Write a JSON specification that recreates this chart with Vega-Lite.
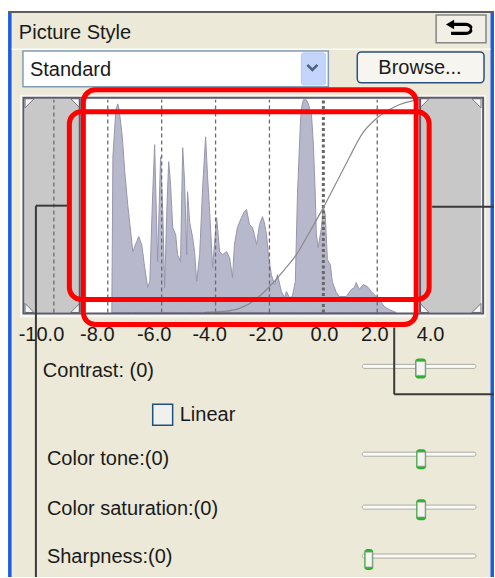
{
  "$schema": "https://vega.github.io/schema/vega-lite/v6.json",
  "width": 495,
  "height": 578,
  "padding": 0,
  "autosize": {"type": "fit", "contains": "padding"},
  "background": "white",
  "config": {"view": {"stroke": null}},
  "datasets": {
    "panel": [{"x": -11.70, "x2": 6.333, "y": 141.3, "y2": -124.41}],
    "blue": [{"x": -11.70, "x2": -11.57, "y": 141.3, "y2": -124.41}, {"x": 6.204, "x2": 6.333, "y": 141.3, "y2": -124.41}],
    "topline": [{"x": -11.70, "x2": 6.333, "y": 141.8, "y2": 140.85}],
    "sepline": [{"x": -11.57, "x2": 6.204, "y": 124.18, "y2": 123.47}],
    "undo_btn": [{"x": 4.185, "x2": 6.037, "y": 139.9, "y2": 126.8}],
    "undo_icon": [
      {"i": 1, "x": 4.778, "y": 135.45}, {"i": 2, "x": 5.296, "y": 135.45}, {"i": 3, "x": 5.444, "y": 134.74},
      {"i": 4, "x": 5.519, "y": 133.33}, {"i": 5, "x": 5.444, "y": 131.92}, {"i": 6, "x": 5.296, "y": 131.22},
      {"i": 7, "x": 4.741, "y": 131.22}
    ],
    "undo_head": [{"x": 4.70, "y": 135.45}],
    "combo": [{"x": -11.148, "x2": 0.185, "y": 123.0, "y2": 106.1}],
    "combo_btn": [{"x": -0.815, "x2": 0.074, "y": 122.07, "y2": 107.04}],
    "chevron": [{"i": 1, "x": -0.593, "y": 116.43}, {"i": 2, "x": -0.407, "y": 114.08}, {"i": 3, "x": -0.222, "y": 116.43}],
    "browse": [{"x": 1.259, "x2": 5.963, "y": 122.54, "y2": 107.98}],
    "hist_outer": [{"x": -11.259, "x2": 6.037, "y": 102.35, "y2": -2.35}],
    "grey": [{"x": -11.07, "x2": -9.04, "y": 100.5, "y2": 0}, {"x": 3.59, "x2": 5.85, "y": 100.5, "y2": 0}],
    "corners": [
      {"corner": "TL", "x": -11.07, "y": 100.5}, {"corner": "TR", "x": -9.04, "y": 100.5},
      {"corner": "BL", "x": -11.07, "y": 0}, {"corner": "BR", "x": -9.04, "y": 0},
      {"corner": "TL", "x": 3.59, "y": 100.5}, {"corner": "TR", "x": 5.85, "y": 100.5},
      {"corner": "BL", "x": 3.59, "y": 0}, {"corner": "BR", "x": 5.85, "y": 0}
    ],
    "plot": [{"x": -9.04, "x2": 3.59, "y": 100, "y2": 0}],
    "hist": [
      {"x": -7.85, "y": 0}, {"x": -7.81, "y": 73.2}, {"x": -7.70, "y": 95.3}, {"x": -7.63, "y": 98.1}, {"x": -7.59, "y": 96.2},
      {"x": -7.48, "y": 85.0}, {"x": -7.44, "y": 78.9}, {"x": -7.37, "y": 66.2}, {"x": -7.26, "y": 50.7}, {"x": -7.11, "y": 33.3},
      {"x": -7.07, "y": 28.6}, {"x": -6.93, "y": 33.3}, {"x": -6.85, "y": 35.7}, {"x": -6.74, "y": 31.9}, {"x": -6.63, "y": 21.1},
      {"x": -6.52, "y": 11.7}, {"x": -6.44, "y": 14.6}, {"x": -6.33, "y": 56.8}, {"x": -6.26, "y": 78.9}, {"x": -6.19, "y": 42.3},
      {"x": -6.15, "y": 23.9}, {"x": -6.07, "y": 60.1}, {"x": -6.04, "y": 73.2}, {"x": -5.96, "y": 47.4}, {"x": -5.89, "y": 11.7},
      {"x": -5.81, "y": 47.4}, {"x": -5.74, "y": 70.9}, {"x": -5.67, "y": 60.1}, {"x": -5.59, "y": 39.9}, {"x": -5.48, "y": 36.6},
      {"x": -5.41, "y": 27.2}, {"x": -5.30, "y": 23.9}, {"x": -5.22, "y": 77.5}, {"x": -5.15, "y": 61.5}, {"x": -5.07, "y": 27.2},
      {"x": -5.04, "y": 56.8}, {"x": -4.96, "y": 42.3}, {"x": -4.85, "y": 35.2}, {"x": -4.78, "y": 28.6}, {"x": -4.70, "y": 14.6},
      {"x": -4.59, "y": 27.2}, {"x": -4.48, "y": 58.7}, {"x": -4.37, "y": 82.6}, {"x": -4.30, "y": 64.8}, {"x": -4.22, "y": 47.4},
      {"x": -4.11, "y": 21.1}, {"x": -3.96, "y": 44.6}, {"x": -3.85, "y": 28.6}, {"x": -3.74, "y": 27.2}, {"x": -3.59, "y": 28.6},
      {"x": -3.48, "y": 25.8}, {"x": -3.37, "y": 16.4}, {"x": -3.30, "y": 31.9}, {"x": -3.19, "y": 39.9}, {"x": -3.04, "y": 44.6},
      {"x": -2.93, "y": 47.4}, {"x": -2.85, "y": 48.4}, {"x": -2.74, "y": 41.3}, {"x": -2.63, "y": 39.9}, {"x": -2.56, "y": 36.6},
      {"x": -2.48, "y": 31.9}, {"x": -2.37, "y": 41.3}, {"x": -2.26, "y": 45.1}, {"x": -2.19, "y": 42.3}, {"x": -2.11, "y": 36.6},
      {"x": -2.04, "y": 27.2}, {"x": -1.93, "y": 17.8}, {"x": -1.81, "y": 13.1}, {"x": -1.70, "y": 17.8}, {"x": -1.56, "y": 9.9},
      {"x": -1.44, "y": 7.0}, {"x": -1.37, "y": 9.9}, {"x": -1.26, "y": 7.0}, {"x": -1.15, "y": 7.5}, {"x": -1.04, "y": 14.6},
      {"x": -0.96, "y": 55.4}, {"x": -0.85, "y": 89.7}, {"x": -0.81, "y": 96.2}, {"x": -0.74, "y": 100}, {"x": -0.63, "y": 100},
      {"x": -0.56, "y": 98.1}, {"x": -0.44, "y": 93.0}, {"x": -0.37, "y": 78.9}, {"x": -0.30, "y": 55.4}, {"x": -0.26, "y": 36.6},
      {"x": -0.19, "y": 30.5}, {"x": -0.07, "y": 39.9}, {"x": 0.00, "y": 49.8}, {"x": 0.07, "y": 46.0}, {"x": 0.15, "y": 24.9},
      {"x": 0.26, "y": 22.5}, {"x": 0.33, "y": 14.6}, {"x": 0.48, "y": 9.4}, {"x": 0.59, "y": 7.5}, {"x": 0.85, "y": 7.5},
      {"x": 1.04, "y": 10.8}, {"x": 1.15, "y": 11.7}, {"x": 1.22, "y": 14.1}, {"x": 1.33, "y": 10.8}, {"x": 1.48, "y": 13.1},
      {"x": 1.63, "y": 12.2}, {"x": 1.78, "y": 9.9}, {"x": 1.96, "y": 7.5}, {"x": 2.07, "y": 6.1}, {"x": 2.26, "y": 2.8},
      {"x": 2.44, "y": 1.4}, {"x": 2.70, "y": 0}
    ],
    "grid": [
      {"x": -10, "y": 0, "y2": 100}, {"x": -8, "y": 0, "y2": 100}, {"x": -6, "y": 0, "y2": 100},
      {"x": -4, "y": 0, "y2": 100}, {"x": -2, "y": 0, "y2": 100}, {"x": 2, "y": 0, "y2": 100}
    ],
    "grid0": [{"x": 0, "y": 0, "y2": 100}],
    "curve": [
      {"x": -4.41, "y": 0}, {"x": -3.67, "y": 0.5}, {"x": -3.11, "y": 1.9}, {"x": -2.56, "y": 5.6}, {"x": -2.0, "y": 12.2},
      {"x": -1.44, "y": 20.2}, {"x": -1.0, "y": 27.2}, {"x": -0.52, "y": 37.6}, {"x": 0, "y": 49.3}, {"x": 0.48, "y": 61.0},
      {"x": 0.96, "y": 72.8}, {"x": 1.44, "y": 84.0}, {"x": 1.96, "y": 91.1}, {"x": 2.44, "y": 95.3}, {"x": 2.81, "y": 97.7},
      {"x": 3.30, "y": 99.5}, {"x": 3.59, "y": 100}
    ],
    "bounds": [{"x": -9.04, "y": 0, "y2": 100.5}, {"x": 3.59, "y": 0, "y2": 100.5}],
    "frame": [{"x": -11.13, "x2": 5.93, "y": 100.94, "y2": -0.47}],
    "ticks": [
      {"label": "-10.0", "x": -10.46, "y": -13.5}, {"label": "-8.0", "x": -8.39, "y": -13.5}, {"label": "-6.0", "x": -6.28, "y": -13.5},
      {"label": "-4.0", "x": -4.22, "y": -13.5}, {"label": "-2.0", "x": -2.13, "y": -13.5}, {"label": "0.0", "x": 0.04, "y": -13.5},
      {"label": "2.0", "x": 1.91, "y": -13.5}, {"label": "4.0", "x": 3.98, "y": -13.5}
    ],
    "tracks": [
      {"x": 1.444, "x2": 5.667, "y": -24.4, "y2": -26.3},
      {"x": 1.444, "x2": 5.667, "y": -65.7, "y2": -67.6},
      {"x": 1.444, "x2": 5.667, "y": -90.6, "y2": -92.5},
      {"x": 1.444, "x2": 5.667, "y": -113.6, "y2": -115.5}
    ],
    "thumbs": [
      {"x": 3.407, "x2": 3.815, "y": -21.6, "y2": -31.0},
      {"x": 3.444, "x2": 3.815, "y": -64.3, "y2": -73.7},
      {"x": 3.444, "x2": 3.815, "y": -87.8, "y2": -97.7},
      {"x": 1.519, "x2": 1.852, "y": -111.3, "y2": -121.1}
    ],
    "thumb_faces": [
      {"x": 3.444, "x2": 3.778, "y": -23.0, "y2": -29.6},
      {"x": 3.481, "x2": 3.778, "y": -65.7, "y2": -72.3},
      {"x": 3.481, "x2": 3.778, "y": -89.2, "y2": -96.2},
      {"x": 1.556, "x2": 1.815, "y": -112.7, "y2": -119.7}
    ],
    "checkbox": [{"x": -6.333, "x2": -5.593, "y": -43.2, "y2": -53.1}],
    "labels": [
      {"text": "Picture Style", "x": -11.30, "y": 128.5},
      {"text": "Standard", "x": -10.89, "y": 111.3},
      {"text": "Browse...", "x": 2.04, "y": 112.2},
      {"text": "Contrast: (0)", "x": -10.41, "y": -30.3},
      {"text": "Linear", "x": -5.33, "y": -51.0},
      {"text": "Color tone:(0)", "x": -10.26, "y": -71.8},
      {"text": "Color saturation:(0)", "x": -10.26, "y": -95.3},
      {"text": "Sharpness:(0)", "x": -10.26, "y": -117.8}
    ],
    "red": [
      {"x": -8.907, "x2": 3.444, "y": 104.69, "y2": -5.63},
      {"x": -9.426, "x2": 3.926, "y": 94.37, "y2": 6.10}
    ],
    "connectors": [
      {"x": -10.667, "x2": -9.519, "y": 50.23, "y2": 50.23},
      {"x": -10.667, "x2": -10.667, "y": 50.23, "y2": -124.41},
      {"x": 4.037, "x2": 6.333, "y": 49.77, "y2": 49.77},
      {"x": 2.630, "x2": 2.630, "y": -7.04, "y2": -38.50},
      {"x": 2.630, "x2": 6.333, "y": -38.50, "y2": -38.50}
    ]
  },
  "encoding": {
    "x": {"field": "x", "type": "quantitative", "scale": {"domain": [-12, 6.3333], "nice": false, "zero": false}, "axis": null},
    "y": {"field": "y", "type": "quantitative", "scale": {"domain": [-124.41, 146.95], "nice": false, "zero": false}, "axis": null}
  },
  "layer": [
    {"data": {"name": "panel"}, "mark": {"type": "rect", "color": "#ECE9D8"}, "encoding": {"x2": {"field": "x2"}, "y2": {"field": "y2"}}},
    {"data": {"name": "blue"}, "mark": {"type": "rect", "color": "#1F5BE0"}, "encoding": {"x2": {"field": "x2"}, "y2": {"field": "y2"}}},
    {"data": {"name": "topline"}, "mark": {"type": "rect", "color": "#5E5E5E"}, "encoding": {"x2": {"field": "x2"}, "y2": {"field": "y2"}}},
    {"data": {"name": "sepline"}, "mark": {"type": "rect", "color": "#FFFFFF", "opacity": 0.8}, "encoding": {"x2": {"field": "x2"}, "y2": {"field": "y2"}}},
    {"data": {"name": "undo_btn"}, "mark": {"type": "rect", "fill": "#F1EFE6", "stroke": "#858585", "strokeWidth": 1.5}, "encoding": {"x2": {"field": "x2"}, "y2": {"field": "y2"}}},
    {"data": {"name": "undo_icon"}, "mark": {"type": "line", "color": "#000000", "strokeWidth": 3.2, "interpolate": "monotone"}, "encoding": {"order": {"field": "i", "type": "quantitative"}}},
    {"data": {"name": "undo_head"}, "mark": {"type": "point", "shape": "triangle-left", "filled": true, "color": "#000000", "size": 90, "opacity": 1}},
    {"data": {"name": "combo"}, "mark": {"type": "rect", "fill": "#FFFFFF", "stroke": "#7F9DB9", "strokeWidth": 1.5}, "encoding": {"x2": {"field": "x2"}, "y2": {"field": "y2"}}},
    {"data": {"name": "combo_btn"}, "mark": {"type": "rect", "fill": "#C4D5FB", "stroke": "#B3C8F5", "strokeWidth": 1, "cornerRadius": 2}, "encoding": {"x2": {"field": "x2"}, "y2": {"field": "y2"}}},
    {"data": {"name": "chevron"}, "mark": {"type": "line", "color": "#4D6185", "strokeWidth": 2.6}, "encoding": {"order": {"field": "i", "type": "quantitative"}}},
    {"data": {"name": "browse"}, "mark": {"type": "rect", "fill": "#F6F5F0", "stroke": "#2B4F7E", "strokeWidth": 1.5, "cornerRadius": 4}, "encoding": {"x2": {"field": "x2"}, "y2": {"field": "y2"}}},
    {"data": {"name": "hist_outer"}, "mark": {"type": "rect", "color": "#F7F7F4"}, "encoding": {"x2": {"field": "x2"}, "y2": {"field": "y2"}}},
    {"data": {"name": "grey"}, "mark": {"type": "rect", "color": "#C8C8C8"}, "encoding": {"x2": {"field": "x2"}, "y2": {"field": "y2"}}},
    {"data": {"name": "plot"}, "mark": {"type": "rect", "color": "#FFFFFF"}, "encoding": {"x2": {"field": "x2"}, "y2": {"field": "y2"}}},
    {"data": {"name": "hist"}, "mark": {"type": "area", "interpolate": "linear", "fill": "#B8B8CC", "stroke": "#9696AE", "strokeWidth": 1}, "encoding": {"y2": {"datum": 0}}},
    {"data": {"name": "grid"}, "mark": {"type": "rule", "color": "#6B6B6B", "strokeWidth": 1.3, "strokeDash": [4, 3]}, "encoding": {"y2": {"field": "y2"}}},
    {"data": {"name": "grid0"}, "mark": {"type": "rule", "color": "#676767", "strokeWidth": 3, "strokeDash": [3, 2.5]}, "encoding": {"y2": {"field": "y2"}}},
    {"data": {"name": "curve"}, "mark": {"type": "line", "color": "#8A8A8A", "strokeWidth": 1.2, "interpolate": "monotone"}},
    {"data": {"name": "corners"}, "mark": {"type": "point", "filled": true, "color": "#F6F6F6", "stroke": "#777777", "strokeWidth": 1, "size": 81, "opacity": 1},
     "encoding": {"shape": {"field": "corner", "type": "nominal", "legend": null,
       "scale": {"domain": ["TL", "TR", "BL", "BR"], "range": ["M0,0L2,0L0,2Z", "M0,0L-2,0L0,2Z", "M0,0L2,0L0,-2Z", "M0,0L-2,0L0,-2Z"]}}}},
    {"data": {"name": "bounds"}, "mark": {"type": "rule", "color": "#5A5A70", "strokeWidth": 2}, "encoding": {"y2": {"field": "y2"}}},
    {"data": {"name": "frame"}, "mark": {"type": "rect", "filled": false, "color": "#5B5B6B", "strokeWidth": 2}, "encoding": {"x2": {"field": "x2"}, "y2": {"field": "y2"}}},
    {"data": {"name": "ticks"}, "mark": {"type": "text", "font": "Liberation Sans", "fontSize": 20, "color": "#1A1A1A", "align": "center", "baseline": "alphabetic"}, "encoding": {"text": {"field": "label"}}},
    {"data": {"name": "tracks"}, "mark": {"type": "rect", "fill": "#FAFAF7", "stroke": "#ABABA2", "strokeWidth": 1, "cornerRadius": 2}, "encoding": {"x2": {"field": "x2"}, "y2": {"field": "y2"}}},
    {"data": {"name": "thumbs"}, "mark": {"type": "rect", "color": "#2DB02D", "cornerRadius": 3}, "encoding": {"x2": {"field": "x2"}, "y2": {"field": "y2"}}},
    {"data": {"name": "thumb_faces"}, "mark": {"type": "rect", "fill": "#F4F4F0", "stroke": "#9A9A9A", "strokeWidth": 0.8}, "encoding": {"x2": {"field": "x2"}, "y2": {"field": "y2"}}},
    {"data": {"name": "checkbox"}, "mark": {"type": "rect", "fill": "#F0F0EC", "stroke": "#1C5180", "strokeWidth": 1.5}, "encoding": {"x2": {"field": "x2"}, "y2": {"field": "y2"}}},
    {"data": {"name": "labels"}, "mark": {"type": "text", "font": "Liberation Sans", "fontSize": 20, "color": "#1A1A1A", "align": "left", "baseline": "alphabetic"}, "encoding": {"text": {"field": "text"}}},
    {"data": {"name": "red"}, "mark": {"type": "rect", "filled": false, "color": "#FF0000", "strokeWidth": 5, "cornerRadius": 12}, "encoding": {"x2": {"field": "x2"}, "y2": {"field": "y2"}}},
    {"data": {"name": "connectors"}, "mark": {"type": "rule", "color": "#3A3A3A", "strokeWidth": 2}, "encoding": {"x2": {"field": "x2"}, "y2": {"field": "y2"}}}
  ]
}
